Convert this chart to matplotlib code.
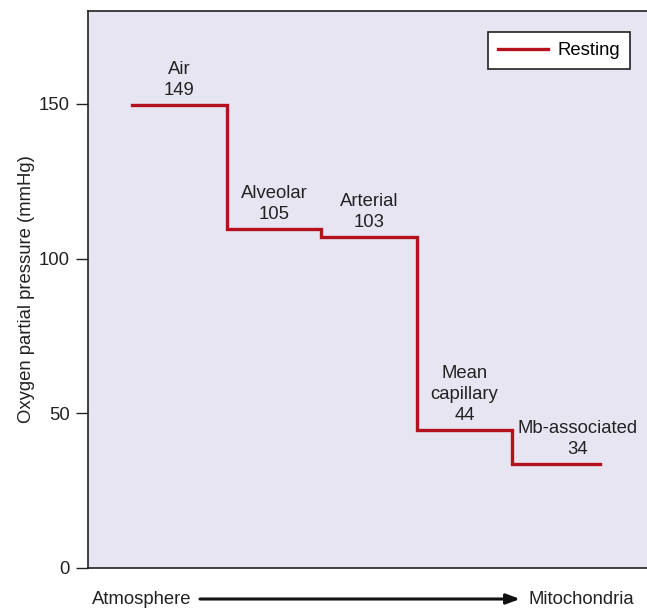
import matplotlib.pyplot as plt
from matplotlib import font_manager

# data
stages = ["Air", "Alveolar", "Arterial", "Mean\ncapillary", "Mb-associated"]
label_values = [149, 105, 103, 44, 34]
plot_levels = [149.6, 109.4, 106.9, 44.5, 33.6]
edges = [0.46, 1.46, 2.45, 3.46, 4.46, 5.39]  # step boundaries, stage units
label_shift = [0, 0, 0, 0, 0.22]

names = {f.name for f in font_manager.fontManager.ttflist}
if "Liberation Sans Narrow" in names:
    fam, fs = "Liberation Sans Narrow", 14.5
else:
    fam, fs = "Liberation Sans", 13.3
plt.rcParams["font.family"] = [fam, "DejaVu Sans"]

red = "#b3121d"
fig = plt.figure(figsize=(6.47, 6.08), dpi=100)
ax = fig.add_axes([88 / 647, 40 / 608, 559 / 647, 557 / 608])
ax.set_facecolor("#e7e5f2")

xs = []
ys = []
for i, v in enumerate(plot_levels):
    xs += [edges[i], edges[i + 1]]
    ys += [v, v]
ax.plot(xs, ys, color=red, lw=2.4, solid_joinstyle="miter", label="Resting")

for i, (name, val) in enumerate(zip(stages, label_values)):
    xc = (edges[i] + edges[i + 1]) / 2 + label_shift[i]
    ax.text(xc, plot_levels[i] + 2.0, f"{name}\n{val}", ha="center", va="bottom",
            fontsize=fs, linespacing=1.3, color="#222222")

ax.set_xlim(0, 5.88)
ax.set_ylim(0, 180)
ax.set_yticks([0, 50, 100, 150])
ax.set_xticks([])
ax.tick_params(axis="y", length=9, width=1, labelsize=fs, pad=4, colors="#222222")
ax.spines["right"].set_visible(False)
for s in ["left", "bottom", "top"]:
    ax.spines[s].set_linewidth(1.2)
    ax.spines[s].set_color("#222222")
ax.set_ylabel("Oxygen partial pressure (mmHg)", fontsize=fs, color="#222222", labelpad=3)

leg = ax.legend(loc="upper right", bbox_to_anchor=(542 / 559, 1 - 21 / 557), fontsize=fs,
                fancybox=False, framealpha=1, edgecolor="#222222", handlelength=2.7,
                borderpad=0.55, handletextpad=0.5, borderaxespad=0)
leg.get_frame().set_linewidth(1.2)

# direction arrow under the axis
fig.text(92 / 647, 1 - 599 / 608, "Atmosphere", fontsize=fs, va="center", ha="left", color="#222222")
fig.text(634 / 647, 1 - 599 / 608, "Mitochondria", fontsize=fs, va="center", ha="right", color="#222222")
ax.annotate("", xy=(432 / 559, -31 / 557), xytext=(112 / 559, -31 / 557),
            xycoords="axes fraction", textcoords="axes fraction",
            arrowprops=dict(arrowstyle="-|>,head_length=0.8,head_width=0.3", lw=2.2, color="#111111",
                            shrinkA=0, shrinkB=0),
            annotation_clip=False)

fig.savefig("out.png", dpi=100)
